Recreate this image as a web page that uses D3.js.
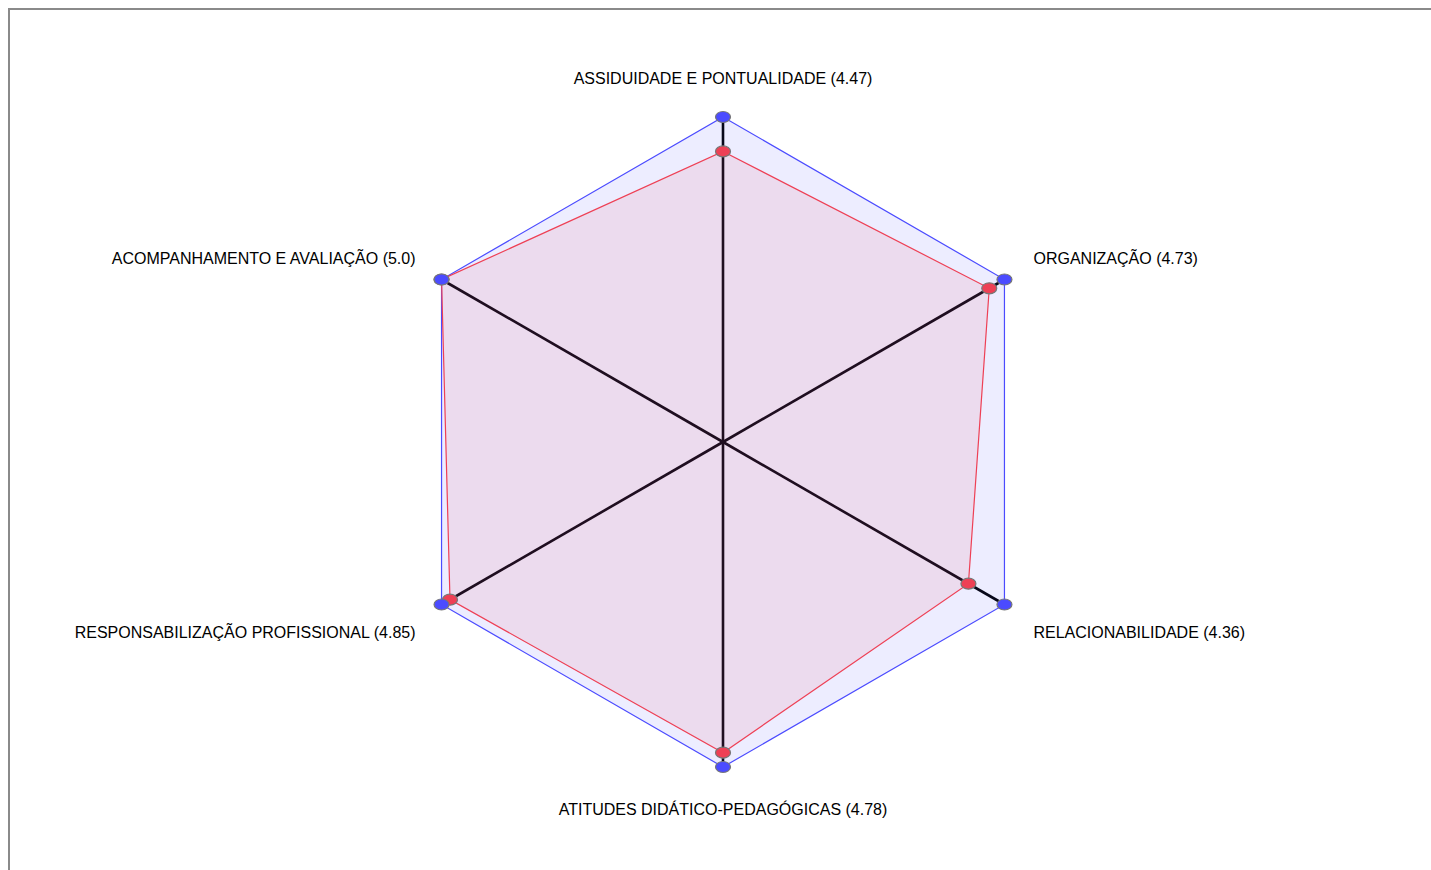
<!DOCTYPE html>
<html>
<head>
<meta charset="utf-8">
<script src="https://cdn.jsdelivr.net/npm/d3@7"></script>
<style>
  body { margin: 0; background: #fff; overflow: hidden; }
  svg text { font-family: "Liberation Sans", Arial, sans-serif; font-size: 16px; fill: #000; }
</style>
</head>
<body>
<div id="chart"></div>
<script>
var axes = ["ASSIDUIDADE E PONTUALIDADE", "ORGANIZAÇÃO", "RELACIONABILIDADE",
  "ATITUDES DIDÁTICO-PEDAGÓGICAS", "RESPONSABILIZAÇÃO PROFISSIONAL", "ACOMPANHAMENTO E AVALIAÇÃO"];
var maxValues = [5, 5, 5, 5, 5, 5];
var scoreValues = [4.47, 4.73, 4.36, 4.78, 4.85, 5.0];
var scoreLabels = ["4.47", "4.73", "4.36", "4.78", "4.85", "5.0"];

var width = 1431;
var height = 870;
var cx = 723;
var cy = 442;
var radius = 325;

var blue = "#4b4bff";
var red = "#ee4055";

var svg = d3.select("#chart").append("svg")
  .attr("width", width)
  .attr("height", height);

/* frame */
svg.append("path")
  .attr("d", `M9,${height} V9 H${width}`)
  .attr("fill", "none")
  .attr("stroke", "#8a8a8a")
  .attr("stroke-width", 2);

var r = d3.scaleLinear().domain([0, 5]).range([0, radius]);
var angle = d3.scaleLinear().domain([0, axes.length]).range([0, 2 * Math.PI]);

function pt(i, v) {
  var a = angle(i);
  return [cx + r(v) * Math.sin(a), cy - r(v) * Math.cos(a)];
}

var g = svg.append("g");

/* axis lines */
g.selectAll(".axis")
  .data(axes).enter()
  .append("line")
  .attr("x1", cx).attr("y1", cy)
  .attr("x2", (d, i) => pt(i, 5)[0])
  .attr("y2", (d, i) => pt(i, 5)[1])
  .attr("stroke", "#000")
  .attr("stroke-width", 2.6);

/* polygons */
var series = [
  {values: maxValues, color: blue},
  {values: scoreValues, color: red}
];

var line = d3.line().curve(d3.curveLinearClosed);

g.selectAll(".area")
  .data(series).enter()
  .append("path")
  .attr("d", s => line(s.values.map((v, i) => pt(i, v))))
  .attr("fill", s => s.color)
  .attr("fill-opacity", 0.1)
  .attr("stroke", s => s.color)
  .attr("stroke-width", 1.2);

/* points: red first, blue on top */
series.slice().reverse().forEach(function(s) {
  g.append("g").selectAll("ellipse")
    .data(s.values).enter()
    .append("ellipse")
    .attr("cx", (v, i) => pt(i, v)[0])
    .attr("cy", (v, i) => pt(i, v)[1])
    .attr("rx", 7.5)
    .attr("ry", 5.5)
    .attr("fill", s.color)
    .attr("stroke", "#777")
    .attr("stroke-width", 1.2);
});

/* labels */
g.selectAll(".label")
  .data(axes).enter()
  .append("text")
  .attr("x", function(d, i) {
    var s = Math.sin(angle(i));
    if (Math.abs(s) < 0.01) return cx;
    return cx + (radius * s) + (s > 0 ? 29 : -26);
  })
  .attr("y", function(d, i) {
    var c = Math.cos(angle(i));
    var y = pt(i, 5)[1];
    if (Math.abs(c - 1) < 0.01) return y - 33;
    if (Math.abs(c + 1) < 0.01) return y + 48;
    return c > 0 ? y - 16 : y + 33;
  })
  .attr("text-anchor", function(d, i) {
    var s = Math.sin(angle(i));
    if (Math.abs(s) < 0.01) return "middle";
    return s > 0 ? "start" : "end";
  })
  .text((d, i) => `${d} (${scoreLabels[i]})`);
</script>
</body>
</html>
